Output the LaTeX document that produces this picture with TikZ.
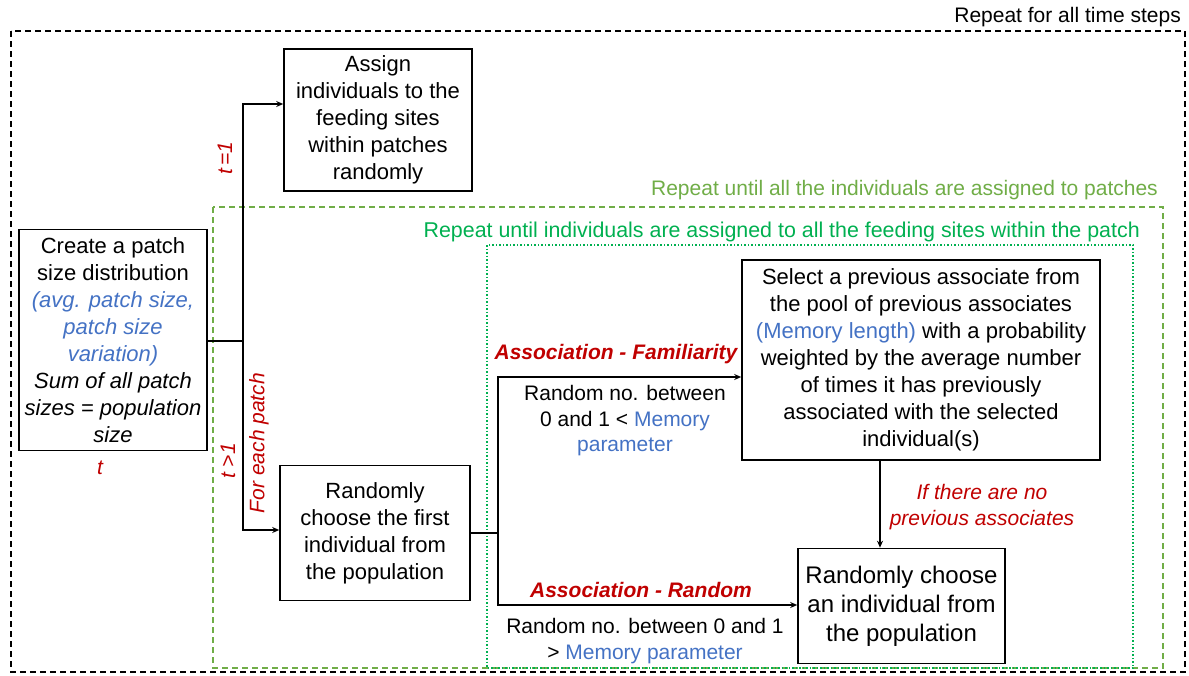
\documentclass[tikz,border=0pt]{standalone}
\usepackage{fontspec}
\setmainfont{Liberation Sans}
\usetikzlibrary{arrows.meta}
\definecolor{memblue}{HTML}{4472C4}
\definecolor{condred}{HTML}{C00000}
\definecolor{loopgreen}{HTML}{70AD47}
\definecolor{sitegreen}{HTML}{00B050}

\begin{document}
\begin{tikzpicture}[
    x=1pt, y=-1pt,
    stepbox/.style={draw, line width=1.6pt, align=center, inner sep=0pt,
                    font=\fontsize{22}{27}\selectfont, text=black},
    lbl/.style={align=center, inner sep=0pt, font=\fontsize{21}{25.5}\selectfont},
    cond/.style={align=center, inner sep=0pt, text=condred,
                 font=\fontsize{21}{25.5}\selectfont\itshape},
    assoc/.style={cond, font=\fontsize{21}{25.5}\selectfont\bfseries\itshape},
    wire/.style={line width=1.3pt},
    flow/.style={wire, -{Stealth[length=7pt,width=6pt]}}
  ]
  \useasboundingbox (0,0) rectangle (1189,675);

  % loops
  \draw[line width=1.5pt, dash pattern=on 6pt off 4pt] (11,31) rectangle (1185,672);
  \node[lbl, anchor=east] (lbltime) at (1181,17) {Repeat for all time steps};
  \draw[loopgreen, line width=1.3pt, dash pattern=on 6pt off 4pt] (213,207) rectangle (1163,668);
  \node[lbl, anchor=east, text=loopgreen] (lblpatch) at (1158,190)
    {Repeat until all the individuals are assigned to patches};
  \draw[sitegreen, line width=1.5pt, dash pattern=on 1.5pt off 2pt] (487,245) rectangle (1133,668);
  \node[lbl, anchor=east, text=sitegreen, font=\fontsize{21.4}{25.5}\selectfont] (lblsite) at (1140,232)
    {Repeat until individuals are assigned to all the feeding sites within the patch};

  % steps
  \node[stepbox, minimum width=188pt, minimum height=221pt] (create) at (113,340)
    {Create a patch\\size distribution\\
     \textcolor{memblue}{\itshape (avg. patch size,}\\
     \textcolor{memblue}{\itshape patch size}\\
     \textcolor{memblue}{\itshape variation)}\\
     \textit{Sum of all patch}\\\textit{sizes = population}\\\textit{size}};
  \node[cond] (lblt) at (100,468) {t};
  \node[stepbox, minimum width=188pt, minimum height=142pt] (assign) at (378,120)
    {Assign\\individuals to the\\feeding sites\\within patches\\randomly};
  \node[stepbox, minimum width=190pt, minimum height=135pt] (first) at (375,533)
    {Randomly\\choose the first\\individual from\\the population};
  \node[stepbox, minimum width=358pt, minimum height=200pt] (select) at (921,360)
    {Select a previous associate from\\the pool of previous associates\\
     \textcolor{memblue}{(Memory length)} with a probability\\
     weighted by the average number\\of times it has previously\\
     associated with the selected\\individual(s)};
  \node[stepbox, minimum width=207pt, minimum height=115pt,
        font=\fontsize{24}{29}\selectfont] (pick) at (901.5,606)
    {Randomly choose\\an individual from\\the population};

  % time branches
  \coordinate (tsplit) at (243,341);
  \coordinate (tfirst) at (243,104);
  \coordinate (tlater) at (243,530);
  \draw[wire] (create.east |- tsplit) -- (tsplit);
  \draw[flow] (tsplit) -- (tfirst) -- (tfirst -| assign.west);
  \draw[flow] (tsplit) -- (tlater) -- (tlater -| first.west);
  \node[cond, rotate=90] (lbltone) at (225,158) {t\,=1};
  \node[cond, rotate=90] (lbltmore) at (228,461) {t >1};
  \node[cond, rotate=90] (lbleach) at (259,443) {For each patch};

  % association branches
  \coordinate (asplit) at (498,533);
  \coordinate (afam) at (498,377);
  \coordinate (arnd) at (498,605);
  \draw[wire] (first.east) -- (first.east -| asplit);
  \draw[flow] (asplit) -- (afam) -- (afam -| select.west);
  \draw[flow] (asplit) -- (arnd) -- (arnd -| pick.west);
  \node[assoc] (lblfam) at (616,354) {Association - Familiarity};
  \node[lbl] (lblless) at (625,421)
    {Random no. between\\0 and 1 < \textcolor{memblue}{Memory}\\\textcolor{memblue}{parameter}};
  \node[assoc] (lblrnd) at (641,590) {Association - Random};
  \node[lbl] (lblmore) at (645,641)
    {Random no. between 0 and 1\\> \textcolor{memblue}{Memory parameter}};

  % fallback
  \draw[flow] ([xshift=-41pt]select.south) -- ([xshift=-41pt]select.south |- pick.north);
  \node[cond] (lblnone) at (982,507) {If there are no\\previous associates};
\end{tikzpicture}
\end{document}
